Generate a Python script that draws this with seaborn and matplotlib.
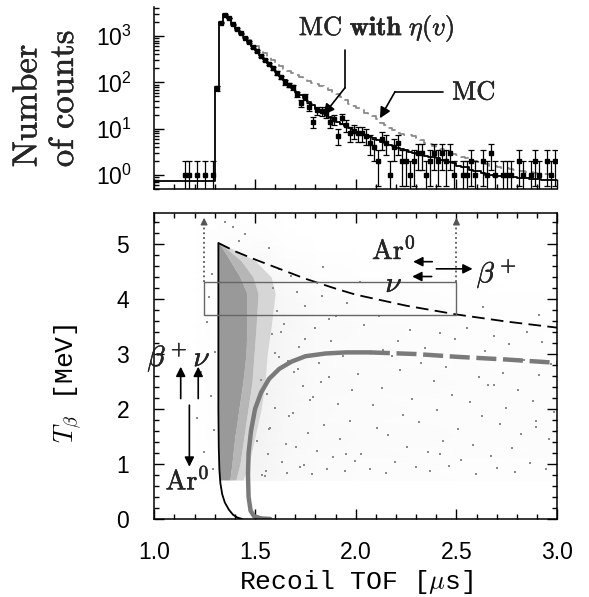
import numpy as np
import matplotlib
matplotlib.use('Agg')
import matplotlib.pyplot as plt
import matplotlib.patheffects as pe
import seaborn as sns
from matplotlib.colors import LinearSegmentedColormap
from matplotlib.ticker import MultipleLocator, LogLocator, FuncFormatter, NullFormatter, FormatStrFormatter

# ---- top panel: recoil TOF spectrum, 0.02 us bins from 1.0 to 3.0 ----
bin_edges = np.linspace(1.0, 3.0, 101)

# MC with eta(v), black solid histogram
mc_eta = [0.75] * 15 + [
    80, 2000, 3000, 2500, 1800, 1450, 1180, 950, 760, 610,
    490, 395, 320, 260, 210, 170, 138, 112, 92, 76,
    63, 53, 45, 38, 32, 27, 23.5, 20.5, 18, 16,
    14, 12.5, 11.5, 10.5, 9.5, 8.7, 8.0, 7.3, 6.7, 6.2,
    5.7, 5.2, 4.8, 4.5, 4.2, 3.9, 3.7, 3.4, 3.2, 3.0,
    2.9, 2.8, 2.6, 2.5, 2.4, 2.3, 2.1, 2.0, 1.9, 1.8,
    1.6, 1.5, 1.5, 1.3, 1.2, 1.2, 1.1, 1.0, 1.0, 0.95,
    0.95, 0.95, 0.92, 0.9, 0.9, 0.88, 0.86, 0.85, 0.84, 0.82,
    0.81, 0.8, 0.79, 0.78, 0.77]

# plain MC, grey dashed histogram (starts at bin 21, 1.42 us)
mc_first_bin = 21
mc_plain = [
    1200, 1000, 830, 700, 600, 510, 430, 360, 305,
    260, 225, 195, 175, 160, 142, 128, 116, 105, 98,
    92, 85, 76, 68, 62, 56, 48, 41, 35, 31,
    28, 25, 22, 20, 19, 16, 13.5, 12, 10.5, 9.2,
    8.2, 7.6, 7.4, 7.3, 7.0, 6.3, 5.6, 5.0, 4.6, 4.2,
    3.9, 3.6, 3.3, 3.1, 2.9, 2.7, 2.5, 2.3, 2.2, 2.0,
    1.9, 1.8, 1.7, 1.6, 1.55, 1.5, 1.45, 1.4, 1.35, 1.3,
    1.25, 1.2, 1.17, 1.14, 1.1, 1.08, 1.06, 1.04, 1.02, 1.0]

# measured counts per bin
data_counts = [
    0, 0, 0, 0, 0, 0, 0, 1, 1, 0,
    1, 0, 1, 0, 1, 75, 1950, 2900, 2450, 1780,
    1420, 1150, 930, 740, 590, 470, 380, 305, 250, 200,
    160, 128, 100, 88, 78, 55, 36, 48, 30, 14,
    25, 24, 22, 14, 16, 7, 17, 12, 8, 9,
    8, 8, 7, 5, 4, 2, 6, 5, 1, 4,
    5, 2, 2, 1, 2, 3, 3, 1, 2, 3,
    2, 3, 2, 3, 1, 0, 1, 1, 2, 1,
    0, 2, 1, 3, 1, 0, 1, 1, 1, 0,
    2, 1, 0, 1, 2, 1, 0, 2, 1, 2]

# ---- bottom panel: T_beta vs recoil TOF ----
# dense part of the MC cloud and its speckled fringe
core_y = [0.71, 1.0, 1.5, 2.0, 2.5, 3.0, 3.5, 4.1, 4.4, 4.7, 5.02]
core_left = [1.325, 1.322, 1.320, 1.319, 1.318, 1.318, 1.318, 1.318, 1.318, 1.318, 1.318]
core_right = [1.375, 1.385, 1.400, 1.420, 1.440, 1.455, 1.460, 1.460, 1.425, 1.376, 1.322]
fringe_mid = [1.405, 1.425, 1.445, 1.465, 1.485, 1.495, 1.505, 1.515, 1.49, 1.43, 1.325]
fringe_right = [1.44, 1.47, 1.50, 1.53, 1.55, 1.56, 1.58, 1.60, 1.58, 1.50, 1.33]

# faint wash under the sparse events (density 0..1)
wash_x = [1.20, 1.32, 1.50, 1.65, 1.80, 2.00, 2.50, 3.00]
wash_y = [0.70, 1.50, 2.50, 3.50, 4.00, 4.50, 5.00, 5.50]
wash_density = [
    [0.00, 0.02, 0.10, 0.06, 0.04, 0.03, 0.02, 0.02],
    [0.00, 0.02, 0.12, 0.07, 0.05, 0.04, 0.03, 0.03],
    [0.00, 0.02, 0.14, 0.08, 0.05, 0.04, 0.03, 0.03],
    [0.00, 0.02, 0.14, 0.08, 0.05, 0.04, 0.02, 0.01],
    [0.00, 0.02, 0.12, 0.07, 0.04, 0.03, 0.01, 0.00],
    [0.00, 0.02, 0.08, 0.04, 0.02, 0.01, 0.00, 0.00],
    [0.00, 0.02, 0.03, 0.01, 0.00, 0.00, 0.00, 0.00],
    [0.00, 0.01, 0.01, 0.00, 0.00, 0.00, 0.00, 0.00]]

# individual scattered events
scatter_tof = [
    1.512, 1.547, 1.531, 1.566, 1.583, 1.597, 1.552, 1.609, 1.574, 1.621,
    1.588, 1.633, 1.561, 1.642, 1.657, 1.668, 1.679, 1.694, 1.703, 1.716,
    1.725, 1.738, 1.749, 1.761, 1.772, 1.784, 1.796, 1.808, 1.819, 1.831,
    1.843, 1.855, 1.866, 1.878, 1.889, 1.901, 1.912, 1.924, 1.936, 1.947,
    1.959, 1.971, 1.982, 1.994, 1.628, 1.712, 1.653, 1.741, 1.598, 1.687,
    1.826, 1.868, 1.951, 1.789, 1.707, 1.533, 1.617, 1.571, 1.664, 1.746,
    2.013, 2.027, 2.041, 2.058, 2.072, 2.086, 2.103, 2.117, 2.131, 2.148,
    2.162, 2.179, 2.193, 2.208, 2.221, 2.237, 2.254, 2.268, 2.281, 2.297,
    2.312, 2.326, 2.343, 2.357, 2.371, 2.388, 2.402, 2.418, 2.433, 2.447,
    2.461, 2.477, 2.492, 2.508, 2.523, 2.537, 2.552, 2.566, 2.583, 2.597,
    2.611, 2.628, 2.642, 2.656, 2.671, 2.687, 2.702, 2.716, 2.731, 2.747,
    2.761, 2.776, 2.792, 2.806, 2.821, 2.837, 2.851, 2.866, 2.882, 2.897,
    2.911, 2.926, 2.942, 2.957, 2.971, 2.986, 2.133, 2.419, 2.688, 2.893,
    1.452, 1.571, 1.836, 2.630, 2.910, 1.390, 1.350, 1.420, 2.020, 1.214,
    1.263, 1.281, 1.246, 1.293, 1.271, 1.302, 1.297, 1.233, 1.288]
scatter_t = [
    1.42, 0.79, 2.53, 1.18, 3.36, 2.02, 0.88, 3.79, 1.66, 2.94,
    4.21, 1.03, 2.27, 3.55, 0.84, 1.87, 4.42, 2.68, 1.31, 3.12,
    0.95, 2.41, 3.88, 1.57, 2.16, 0.82, 3.47, 1.24, 2.83, 4.05,
    1.71, 0.91, 2.58, 3.24, 1.12, 3.69, 2.09, 1.46, 2.97, 0.87,
    3.93, 1.79, 2.34, 1.05, 3.41, 2.73, 1.36, 0.98, 3.02, 1.93,
    2.49, 3.63, 1.18, 2.21, 4.12, 0.80, 4.55, 1.63, 2.87, 3.28,
    2.63, 1.18, 3.52, 3.04, 0.91, 2.07, 1.66, 3.69, 2.38, 0.84,
    1.52, 2.96, 1.03, 3.23, 2.71, 1.89, 1.31, 3.44, 2.19, 0.95,
    1.76, 2.84, 3.11, 1.22, 0.88, 2.51, 1.98, 3.39, 1.41, 2.77,
    0.97, 2.26, 3.28, 1.63, 1.07, 2.92, 3.47, 2.12, 1.34, 0.82,
    2.58, 1.87, 3.05, 2.43, 1.14, 3.33, 0.93, 1.72, 2.66, 2.02,
    3.18, 1.29, 0.86, 2.35, 1.55, 2.89, 3.41, 1.01, 2.14, 1.79,
    2.61, 3.22, 0.90, 1.46, 2.81, 1.94, 3.07, 1.19, 2.44, 1.68,
    5.18, 4.93, 4.58, 3.86, 3.71, 5.32, 5.41, 5.06, 4.31, 1.83,
    3.58, 2.24, 1.21, 0.91, 4.03, 3.04, 1.62, 2.67, 4.46]

# kinematic limits
edge_x = [1.318, 1.318, 1.320, 1.323, 1.328, 1.337, 1.350, 1.370, 1.390, 1.410, 1.435]
edge_y = [5.02, 2.00, 1.30, 0.90, 0.65, 0.45, 0.30, 0.17, 0.08, 0.03, 0.0]
end_x = [1.318, 1.40, 1.50, 1.60, 1.75, 1.90, 2.00, 2.25, 2.50, 2.75, 3.00]
end_y = [5.02, 4.87, 4.72, 4.58, 4.37, 4.19, 4.08, 3.88, 3.72, 3.59, 3.48]
grey_x = [1.575, 1.530, 1.495, 1.478, 1.468, 1.465, 1.468, 1.480, 1.500, 1.530,
          1.570, 1.620, 1.680, 1.750, 1.850, 1.950, 2.070]
grey_y = [0.00, 0.01, 0.05, 0.15, 0.40, 0.80, 1.20, 1.60, 2.00, 2.30,
          2.55, 2.73, 2.86, 2.96, 3.01, 3.03, 3.03]
grey_dash_x = [2.07, 2.30, 2.50, 2.75, 3.00]
grey_dash_y = [3.03, 3.00, 2.95, 2.90, 2.84]

# energy cut window
window_tof = (1.247, 2.50)
window_t = (3.71, 4.31)

sns.set_theme(style='white')
plt.rcParams['font.family'] = ['Liberation Sans', 'DejaVu Sans']
plt.rcParams['mathtext.fontset'] = 'cm'

thick = [pe.withStroke(linewidth=0.3, foreground='black')]
mono = ['Liberation Mono', 'DejaVu Sans Mono']

fig = plt.figure(figsize=(5.89, 5.97), dpi=100)
ax_top = fig.add_axes([0.262, 0.6834, 0.684, 0.305])
ax = fig.add_axes([0.262, 0.1307, 0.684, 0.512])

centers = bin_edges[:-1] + 0.01

# --- top ---
eta_steps = list(mc_eta) + [mc_eta[-1]]
mc_steps = list(mc_plain) + [mc_plain[-1]]
sns.lineplot(x=bin_edges, y=eta_steps, drawstyle='steps-post', estimator=None, sort=False,
             color='black', lw=1.3, ax=ax_top)
sns.lineplot(x=bin_edges[mc_first_bin:], y=mc_steps, drawstyle='steps-post', estimator=None,
             sort=False, color='#8a8a8a', lw=1.3, linestyle=(0, (5, 3)), ax=ax_top)
counts = np.array(data_counts, dtype=float)
m = counts > 0
n = counts[m]
err = np.sqrt(n)
lo = np.minimum(err, n - 0.3)
ax_top.errorbar(centers[m], n, yerr=[lo, err], fmt='s', ms=3, color='black',
                elinewidth=0.9, capsize=2, capthick=0.9)
ax_top.set_yscale('log')
ax_top.set_xlim(1.0, 3.0)
ax_top.set_ylim(0.5, 4250)
ax_top.set_xlabel('')
ax_top.set_ylabel('')
ax_top.spines['top'].set_visible(False)
ax_top.spines['right'].set_visible(False)
ax_top.xaxis.set_major_locator(MultipleLocator(0.5))
ax_top.xaxis.set_minor_locator(MultipleLocator(0.1))
ax_top.xaxis.set_major_formatter(NullFormatter())
ax_top.yaxis.set_major_locator(LogLocator(base=10, numticks=10))
ax_top.yaxis.set_minor_locator(LogLocator(base=10, subs=np.arange(2, 10), numticks=10))
ax_top.yaxis.set_minor_formatter(NullFormatter())
ax_top.yaxis.set_major_formatter(FuncFormatter(
    lambda v, p: r'$\mathregular{10^{%d}}$' % round(np.log10(v))))

ax_top.text(2.104, 1450, r'$\mathrm{MC}\ \mathbf{with}\ \eta(v)$', fontsize=19,
            ha='center', va='center', path_effects=thick)
ax_top.plot([1.946, 1.946], [500, 76], color='black', lw=1.2)
ax_top.annotate('', xy=(1.84, 19.8), xytext=(1.946, 76),
                arrowprops=dict(arrowstyle='-|>', color='black', lw=1.2,
                                mutation_scale=16, shrinkA=0, shrinkB=0))
ax_top.text(2.587, 60, r'$\mathrm{MC}$', fontsize=19, ha='center', va='center',
            path_effects=thick)
ax_top.plot([2.434, 2.195], [63, 63], color='black', lw=1.2)
ax_top.annotate('', xy=(2.12, 16.8), xytext=(2.195, 63),
                arrowprops=dict(arrowstyle='-|>', color='black', lw=1.2,
                                mutation_scale=16, shrinkA=0, shrinkB=0))

# --- bottom ---
cmap = LinearSegmentedColormap.from_list('cloud', ['white', '#999999'])
gx, gy = np.meshgrid(wash_x, wash_y)
ax.pcolormesh(gx, gy, np.array(wash_density), shading='gouraud', cmap=cmap,
              vmin=0, vmax=1, zorder=0)
ax.fill_betweenx(core_y, fringe_mid, fringe_right, color='#d6d6d6', lw=0, zorder=1)
ax.fill_betweenx(core_y, core_right, fringe_mid, color='#b6b6b6', lw=0, zorder=1)
ax.fill_betweenx(core_y, core_left, core_right, color='#999999', lw=0, zorder=1)
ax.plot(scatter_tof, scatter_t, 's', ms=1.8, mew=0, color='#8c8c8c', zorder=1)

sns.lineplot(x=edge_x, y=edge_y, sort=False, estimator=None, color='black', lw=1.3, ax=ax)
sns.lineplot(x=end_x, y=end_y, sort=False, estimator=None, color='black', lw=1.3,
             linestyle=(0, (7, 3.5)), ax=ax)
sns.lineplot(x=grey_x, y=grey_y, sort=False, estimator=None, color='#7a7a7a', lw=3.2, ax=ax)
sns.lineplot(x=grey_dash_x, y=grey_dash_y, sort=False, estimator=None, color='#7a7a7a',
             lw=3.2, linestyle=(0, (4.5, 1.5)), ax=ax)

ax.add_patch(plt.Rectangle((window_tof[0], window_t[0]), window_tof[1] - window_tof[0],
                           window_t[1] - window_t[0], fill=False, ec='#666666', lw=1.0,
                           zorder=3))
for xv in window_tof:
    ax.plot([xv, xv], [window_t[1], 5.36], color='#555555', ls=':', lw=1.3)
    ax.annotate('', xy=(xv, 5.48), xytext=(xv, 5.36),
                arrowprops=dict(arrowstyle='-|>', color='#555555', lw=1,
                                mutation_scale=10, shrinkA=0, shrinkB=0))

arrow = dict(arrowstyle='-|>', color='black', lw=1.2, mutation_scale=14, shrinkA=0, shrinkB=0)
ax.annotate('', xy=(2.285, 4.68), xytext=(2.38, 4.68), arrowprops=arrow)
ax.annotate('', xy=(2.28, 4.41), xytext=(2.377, 4.41), arrowprops=arrow)
ax.annotate('', xy=(2.58, 4.55), xytext=(2.40, 4.55), arrowprops=arrow)
ax.text(2.19, 4.88, r'$\mathrm{Ar}^0$', fontsize=20, ha='center', va='center', path_effects=thick)
ax.text(2.19, 4.27, r'$\nu$', fontsize=21, ha='center', va='center', path_effects=thick)
ax.text(2.70, 4.46, r'$\beta^+$', fontsize=21, ha='center', va='center', path_effects=thick)

ax.annotate('', xy=(1.131, 2.77), xytext=(1.131, 2.19), arrowprops=arrow)
ax.annotate('', xy=(1.218, 2.77), xytext=(1.218, 2.19), arrowprops=arrow)
ax.annotate('', xy=(1.174, 0.95), xytext=(1.174, 2.07), arrowprops=arrow)
ax.text(1.065, 2.94, r'$\beta^+$', fontsize=21, ha='center', va='center', path_effects=thick)
ax.text(1.237, 2.92, r'$\nu$', fontsize=21, ha='center', va='center', path_effects=thick)
ax.text(1.165, 0.69, r'$\mathrm{Ar}^0$', fontsize=20, ha='center', va='center', path_effects=thick)

ax.set_xlim(1.0, 3.0)
ax.set_ylim(0, 5.56)
ax.xaxis.set_major_locator(MultipleLocator(0.5))
ax.xaxis.set_minor_locator(MultipleLocator(0.1))
ax.yaxis.set_major_locator(MultipleLocator(1))
ax.yaxis.set_minor_locator(MultipleLocator(0.2))
ax.xaxis.set_major_formatter(FormatStrFormatter('%.1f'))
ax.yaxis.set_major_formatter(FormatStrFormatter('%d'))
ax.set_xlabel(r'Recoil TOF [$\mu$s]', fontsize=19, family=mono, va='center', color='black')
ax.xaxis.set_label_coords(0.5, -0.206)
ax.set_ylabel(r'$T_{\beta}$ [MeV]', fontsize=19, family=mono, va='center', ha='center',
              color='black')
ax.yaxis.set_label_coords(-0.214, 0.445)

for a in (ax_top, ax):
    for s in a.spines.values():
        s.set_linewidth(1.1)
        s.set_color('black')
    a.tick_params(which='both', direction='in', width=1, colors='black', labelsize=16.5,
                  bottom=True, left=True)
    a.tick_params(which='major', length=7, pad=16)
    a.tick_params(which='minor', length=3.5)
ax.tick_params(which='both', top=True, right=True)
ax.tick_params(axis='y', pad=18)

fig.text(0.046, 0.720, r'$\mathrm{Number}$', rotation=90, fontsize=25, ha='center',
         va='bottom', path_effects=thick)
fig.text(0.108, 0.720, r'$\mathrm{of\ counts}$', rotation=90, fontsize=25, ha='center',
         va='bottom', path_effects=thick)

fig.savefig('out.png', dpi=100)
